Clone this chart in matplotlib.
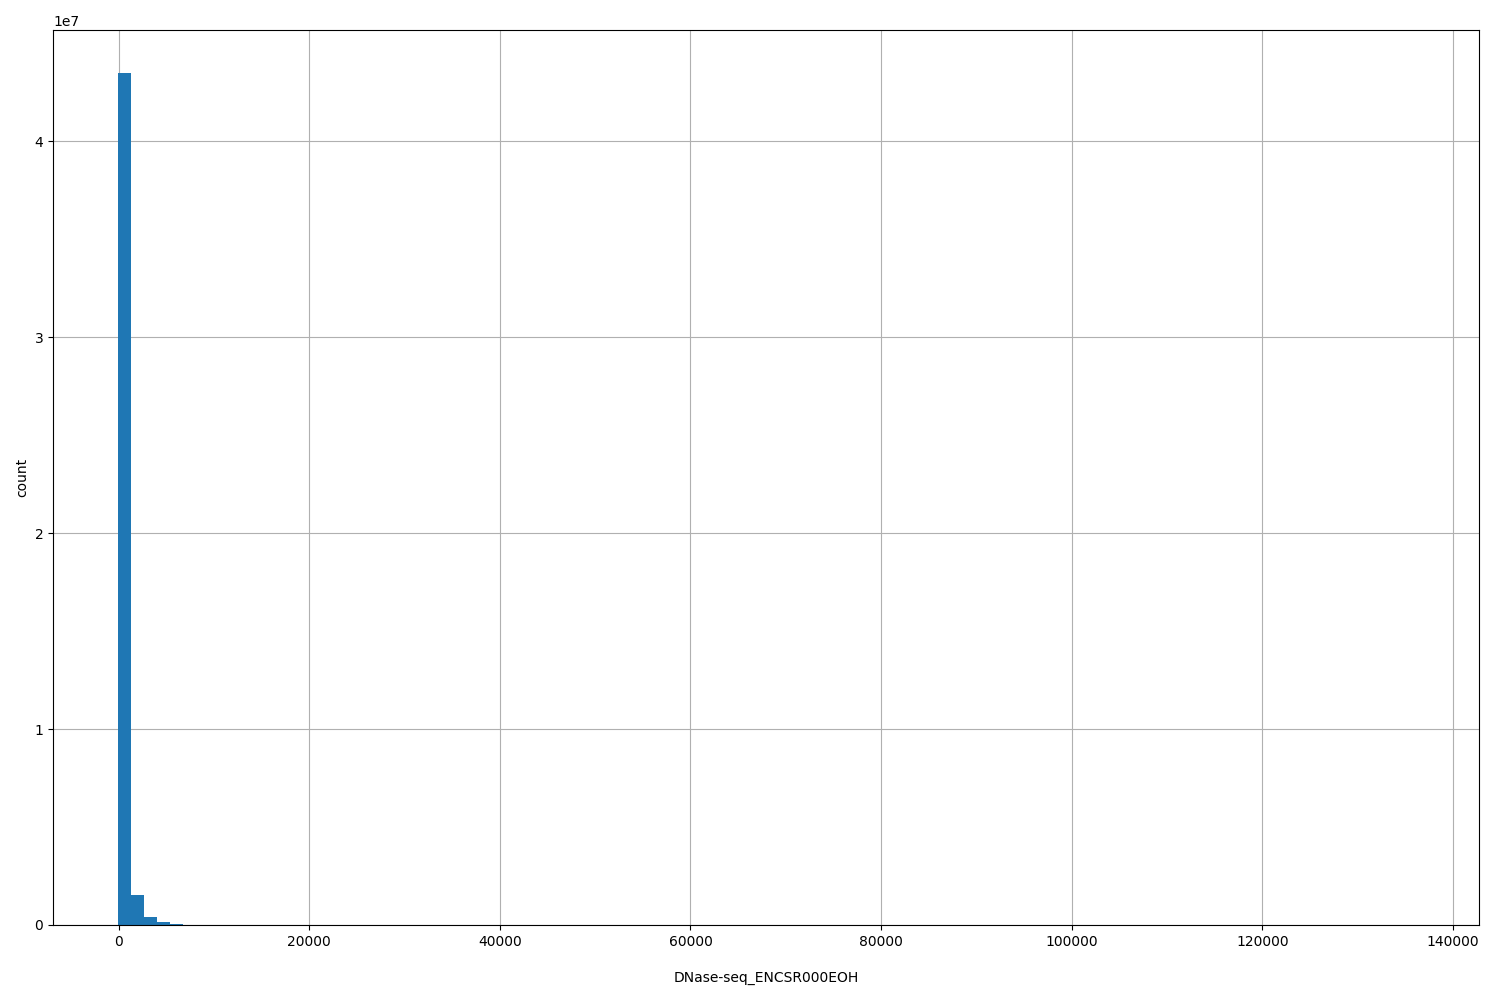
import numpy as np
import matplotlib
matplotlib.use("Agg")
import matplotlib.pyplot as plt

x_min = -90
x_max = 135940
n_bins = 100
# counts of the first bins; remaining bins are tiny tail values
head_counts = [43500000, 1530000, 410000, 150000, 60000, 25000, 12000, 6000, 3000, 1500,
               800, 500, 300, 200, 150, 100, 80, 60, 50, 40]
tail_counts = [30, 25, 20, 18, 15, 12, 10, 9, 8, 7,
               6, 5, 5, 4, 4, 3, 3, 3, 2, 2,
               2, 2, 2, 1, 1, 1, 1, 1, 1, 1,
               1, 1, 1, 1, 1, 1, 1, 1, 1, 1,
               1, 0, 1, 0, 1, 0, 0, 1, 0, 0,
               1, 0, 0, 0, 1, 0, 0, 0, 0, 1,
               0, 0, 0, 0, 0, 0, 0, 0, 0, 0,
               0, 0, 0, 0, 0, 0, 0, 0, 0, 1]
counts = np.array(head_counts + tail_counts, dtype=float)

edges = np.linspace(x_min, x_max, n_bins + 1)
centers = (edges[:-1] + edges[1:]) / 2

fig = plt.figure(figsize=(15, 10), dpi=100)
ax = fig.add_axes([0.03533, 0.075, 0.9507, 0.895])
ax.hist(centers, bins=edges, weights=counts, color="#1f77b4")
ax.grid(True)
ax.set_axisbelow(True)
ax.set_xlabel("DNase-seq_ENCSR000EOH", labelpad=16)
ax.set_ylabel("count")
fig.savefig("out.png", dpi=100)
